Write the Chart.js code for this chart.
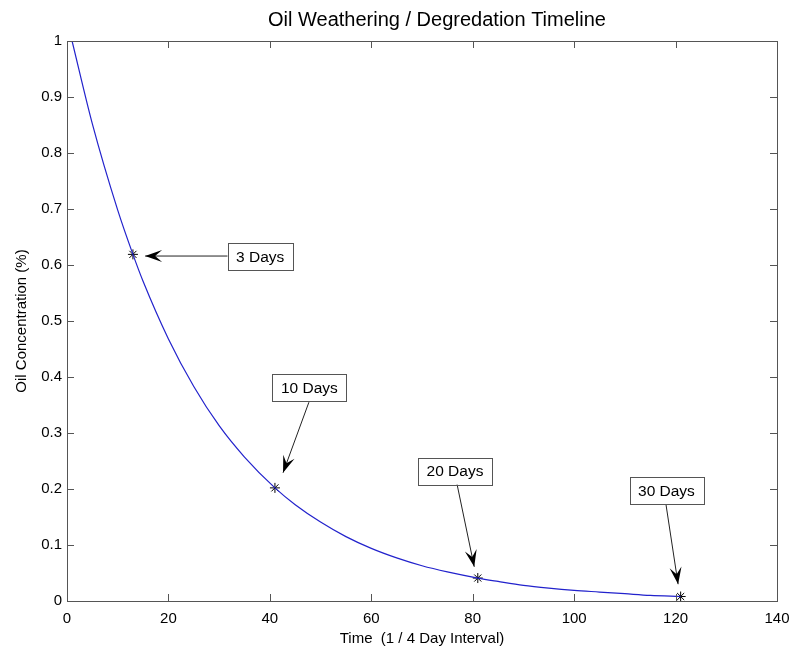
<!DOCTYPE html>
<html>
<head>
<meta charset="utf-8">
<script src="https://cdn.jsdelivr.net/npm/chart.js@4.4.1/dist/chart.umd.min.js"></script>
<style>
  html, body { margin: 0; padding: 0; background: #fff; overflow: hidden; }
  canvas { display: block; }
</style>
</head>
<body>
<canvas id="c" width="790" height="649"></canvas>
<script>
"use strict";

// curve (time in 1/4 day steps, concentration)
const timeX = [1, 5, 10, 13, 15, 20, 25, 30, 35, 41, 45, 50, 55, 60, 65, 70, 75, 81, 85, 90, 95, 100, 105, 110, 115, 121];
const concY = [1, 0.852, 0.698, 0.619, 0.571, 0.468, 0.383, 0.313, 0.257, 0.202, 0.172, 0.141, 0.115, 0.094, 0.077, 0.063, 0.052, 0.041, 0.035, 0.028, 0.023, 0.019, 0.016, 0.013, 0.010, 0.008];

// marked points
const markX = [13, 41, 81, 121];
const markY = [0.619, 0.202, 0.041, 0.008];

// annotation labels: box centre and arrow from/to, in data units
const noteText = ["3 Days", "10 Days", "20 Days", "30 Days"];
const noteBoxX = [38.1, 47.8, 76.5, 118.2];
const noteBoxY = [0.615, 0.381, 0.232, 0.197];
const noteFromX = [31.7, 47.7, 76.9, 118.1];
const noteFromY = [0.616, 0.355, 0.209, 0.173];
const noteToX = [15.4, 42.6, 80.3, 120.5];
const noteToY = [0.616, 0.229, 0.061, 0.030];

const xTicks = [0, 20, 40, 60, 80, 100, 120, 140];

const FONT = "'Liberation Sans', Arial, sans-serif";

function arrowHead(ctx, x0, y0, x1, y1) {
  const ang = Math.atan2(y1 - y0, x1 - x0);
  const len = 17, wid = 6, notch = 10;
  ctx.save();
  ctx.translate(x1, y1);
  ctx.rotate(ang);
  ctx.beginPath();
  ctx.moveTo(0, 0);
  ctx.lineTo(-len, -wid);
  ctx.lineTo(-notch, 0);
  ctx.lineTo(-len, wid);
  ctx.closePath();
  ctx.fillStyle = "#000";
  ctx.fill();
  ctx.restore();
}

const decorPlugin = {
  id: "decor",
  afterDraw(chart) {
    const { ctx, chartArea: a, scales } = chart;
    const xs = scales.x, ys = scales.y;
    ctx.save();

    // title
    ctx.fillStyle = "#000";
    ctx.font = "20px " + FONT;
    ctx.textAlign = "center";
    ctx.textBaseline = "middle";
    ctx.fillText("Oil Weathering / Degredation Timeline", 437, 20);

    // box + inward ticks on all four sides
    ctx.strokeStyle = "#555";
    ctx.lineWidth = 1;
    ctx.strokeRect(a.left + 0.5, a.top + 0.5, a.right - a.left, a.bottom - a.top);
    ctx.beginPath();
    xs.ticks.forEach((t) => {
      const px = Math.round(xs.getPixelForValue(t.value)) + 0.5;
      ctx.moveTo(px, a.bottom); ctx.lineTo(px, a.bottom - 7);
      ctx.moveTo(px, a.top); ctx.lineTo(px, a.top + 7);
    });
    ys.ticks.forEach((t) => {
      const py = Math.round(ys.getPixelForValue(t.value)) + 0.5;
      ctx.moveTo(a.left, py); ctx.lineTo(a.left + 7, py);
      ctx.moveTo(a.right, py); ctx.lineTo(a.right - 7, py);
    });
    ctx.stroke();

    // annotations
    ctx.font = "15.5px " + FONT;
    noteText.forEach((txt, i) => {
      const fx = xs.getPixelForValue(noteFromX[i]), fy = ys.getPixelForValue(noteFromY[i]);
      const tx = xs.getPixelForValue(noteToX[i]), ty = ys.getPixelForValue(noteToY[i]);
      ctx.strokeStyle = "#222";
      ctx.lineWidth = 1;
      ctx.beginPath();
      ctx.moveTo(fx, fy);
      ctx.lineTo(tx, ty);
      ctx.stroke();
      arrowHead(ctx, fx, fy, tx, ty);

      const cx = xs.getPixelForValue(noteBoxX[i]), cy = ys.getPixelForValue(noteBoxY[i]);
      const w = ctx.measureText(txt).width + 17, h = 27;
      ctx.fillStyle = "#fff";
      ctx.fillRect(cx - w / 2, cy - h / 2, w, h);
      ctx.strokeStyle = "#555";
      ctx.strokeRect(Math.round(cx - w / 2) + 0.5, Math.round(cy - h / 2) + 0.5, Math.round(w), h);
      ctx.fillStyle = "#000";
      ctx.textAlign = "center";
      ctx.textBaseline = "middle";
      ctx.fillText(txt, cx, cy + 1);
    });
    ctx.restore();
  },
};

new Chart(document.getElementById("c").getContext("2d"), {
  type: "scatter",
  data: {
    datasets: [
      {
        label: "curve",
        data: timeX.map((x, i) => ({ x, y: concY[i] })),
        showLine: true,
        borderColor: "#2222cc",
        borderWidth: 1.2,
        pointRadius: 0,
        cubicInterpolationMode: "monotone",
        fill: false,
      },
      {
        label: "marks",
        data: markX.map((x, i) => ({ x, y: markY[i] })),
        pointStyle: "star",
        pointRadius: 5,
        borderColor: "#000",
        borderWidth: 1,
        backgroundColor: "#000",
      },
    ],
  },
  options: {
    responsive: false,
    animation: false,
    devicePixelRatio: 1,
    layout: { padding: { top: 41, right: 13, left: 0, bottom: 0 } },
    plugins: { legend: { display: false }, tooltip: { enabled: false } },
    scales: {
      x: {
        type: "linear",
        min: 0,
        max: 140,
        afterBuildTicks: (s) => { s.ticks = xTicks.map((v) => ({ value: v })); },
        afterFit: (s) => { s.height = 48; s.paddingLeft = 0; s.paddingRight = 0; },
        grid: { display: false, drawTicks: false },
        border: { display: false },
        ticks: { color: "#000", font: { family: FONT, size: 15 }, padding: 9 },
        title: { display: true, text: "Time  (1 / 4 Day Interval)", color: "#000", font: { family: FONT, size: 15 }, padding: { top: 0, bottom: 1 } },
      },
      y: {
        min: 0,
        max: 1,
        afterFit: (s) => { s.width = 67; s.paddingTop = 0; s.paddingBottom = 0; },
        grid: { display: false, drawTicks: false },
        border: { display: false },
        ticks: { stepSize: 0.1, autoSkip: false, color: "#000", font: { family: FONT, size: 15 }, padding: 5,
          callback: (v) => String(Math.round(v * 10) / 10) },
        title: { display: true, text: "Oil Concentration (%)", color: "#000", font: { family: FONT, size: 15 }, padding: { top: 13, bottom: 0 } },
      },
    },
  },
  plugins: [decorPlugin],
});
</script>
</body>
</html>
